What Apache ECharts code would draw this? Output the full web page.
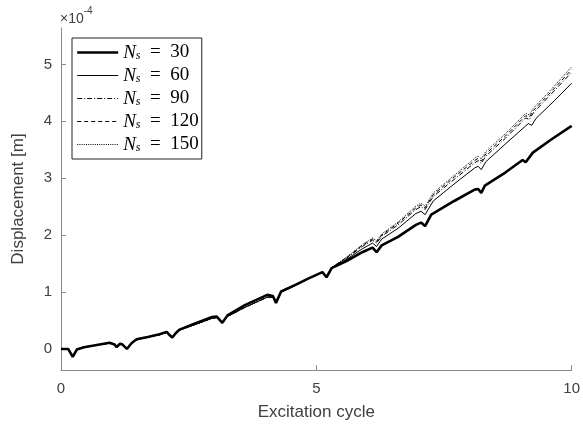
<!DOCTYPE html>
<html>
<head>
<meta charset="utf-8">
<script src="https://cdn.jsdelivr.net/npm/echarts@6/dist/echarts.min.js"></script>
<style>
  html, body { margin: 0; padding: 0; background: #fff; }
  #chart { width: 583px; height: 426px; }
</style>
</head>
<body>
<div id="chart"></div>
<script>
// Displacement (in units of 1e-4 m) versus excitation cycle, for several Ns.
const seriesNames = ['30', '60', '90', '120', '150'];
const xTicks = [0, 5, 10];
const yTicks = [0, 1, 2, 3, 4, 5];

// Ns = 30 (thick line)
const ns30 = [
  [0, 0], [0.14, 0], [0.23, -0.14], [0.31, -0.01], [0.45, 0.03], [0.7, 0.07], [0.95, 0.11],
  [1.05, 0.08], [1.09, 0.03], [1.15, 0.09], [1.2, 0.08], [1.29, 0.0], [1.38, 0.1], [1.48, 0.17],
  [1.7, 0.21], [1.93, 0.26], [2.07, 0.3], [2.13, 0.24], [2.18, 0.2], [2.25, 0.28], [2.32, 0.34],
  [2.6, 0.44], [2.96, 0.56], [3.05, 0.57], [3.16, 0.46], [3.26, 0.59], [3.6, 0.77], [4.04, 0.95],
  [4.15, 0.93], [4.21, 0.81], [4.31, 1.01], [4.6, 1.13], [4.85, 1.24], [5.12, 1.35], [5.2, 1.26],
  [5.3, 1.42], [5.6, 1.55], [5.9, 1.70], [6.1, 1.78], [6.18, 1.70], [6.28, 1.82], [6.6, 1.97],
  [6.95, 2.18], [7.05, 2.22], [7.13, 2.16], [7.25, 2.36], [7.7, 2.60], [8.1, 2.80], [8.17, 2.81],
  [8.23, 2.74], [8.3, 2.87], [8.7, 3.10], [9.04, 3.32], [9.1, 3.28], [9.24, 3.45], [9.6, 3.68],
  [10, 3.92]
];

// Shared early path of the finer discretisations (they nearly coincide up to cycle 5)
const thinEarly = [
  [0, 0], [0.14, 0], [0.23, -0.13], [0.31, 0.0], [0.45, 0.03], [0.7, 0.07], [0.95, 0.1],
  [1.05, 0.08], [1.09, 0.04], [1.15, 0.09], [1.2, 0.08], [1.29, 0.01], [1.38, 0.1], [1.48, 0.16],
  [1.7, 0.21], [1.93, 0.25], [2.07, 0.29], [2.13, 0.25], [2.18, 0.21], [2.25, 0.28], [2.32, 0.33],
  [2.6, 0.42], [2.96, 0.54], [3.05, 0.55], [3.16, 0.47], [3.26, 0.57], [3.6, 0.73], [4.04, 0.91],
  [4.15, 0.91], [4.21, 0.82], [4.31, 1.0], [4.6, 1.12], [4.85, 1.24], [5.12, 1.35], [5.2, 1.27],
  [5.3, 1.43]
];

const ns60Tail = [
  [5.6, 1.58], [5.9, 1.76], [6.1, 1.86], [6.18, 1.80], [6.28, 1.93], [6.6, 2.12], [6.95, 2.38],
  [7.05, 2.42], [7.13, 2.36], [7.29, 2.60], [7.7, 2.90], [8.1, 3.18], [8.17, 3.21], [8.23, 3.15],
  [8.32, 3.29], [8.7, 3.60], [9.15, 3.96], [9.22, 3.93], [9.3, 4.05], [9.67, 4.37], [10, 4.67]
];
const ns90Tail = [
  [5.6, 1.60], [5.9, 1.80], [6.1, 1.91], [6.18, 1.86], [6.28, 1.98], [6.6, 2.18], [6.95, 2.45],
  [7.05, 2.50], [7.13, 2.45], [7.29, 2.68], [7.7, 2.98], [8.1, 3.27], [8.17, 3.31], [8.23, 3.26],
  [8.32, 3.39], [8.7, 3.70], [9.1, 4.06], [9.17, 4.03], [9.25, 4.15], [9.6, 4.48], [10, 4.86]
];
const ns120Tail = [
  [5.6, 1.61], [5.9, 1.82], [6.1, 1.93], [6.18, 1.88], [6.28, 2.00], [6.6, 2.21], [6.95, 2.48],
  [7.05, 2.53], [7.13, 2.48], [7.29, 2.71], [7.7, 3.02], [8.1, 3.31], [8.17, 3.35], [8.23, 3.30],
  [8.32, 3.43], [8.7, 3.74], [9.1, 4.10], [9.17, 4.07], [9.25, 4.19], [9.6, 4.52], [10, 4.91]
];
const ns150Tail = [
  [5.6, 1.62], [5.9, 1.83], [6.1, 1.95], [6.18, 1.90], [6.28, 2.02], [6.6, 2.23], [6.95, 2.51],
  [7.05, 2.56], [7.13, 2.51], [7.29, 2.74], [7.7, 3.05], [8.1, 3.35], [8.17, 3.39], [8.23, 3.34],
  [8.32, 3.47], [8.7, 3.78], [9.1, 4.14], [9.17, 4.11], [9.25, 4.23], [9.6, 4.56], [10, 4.96]
];

const seriesData = [
  ns30,
  thinEarly.concat(ns60Tail),
  thinEarly.concat(ns90Tail),
  thinEarly.concat(ns120Tail),
  thinEarly.concat(ns150Tail)
];
const lineStyles = [
  { width: 2.6, type: 'solid' },
  { width: 1, type: 'solid' },
  { width: 1, type: [5, 2, 1, 2] },
  { width: 1, type: [4, 3] },
  { width: 1, type: [1, 1.2] }
];

const axisGray = '#8a8a8a';
const labelGray = '#404040';
const enSp = '\u2002';

const chart = echarts.init(document.getElementById('chart'), null, { renderer: 'canvas' });
chart.setOption({
  animation: false,
  backgroundColor: '#ffffff',
  grid: { left: 61, right: 9, top: 28, bottom: 53, containLabel: false },
  xAxis: {
    type: 'value', min: 0, max: 10, interval: 5,
    name: 'Excitation cycle', nameLocation: 'middle', nameGap: 34,
    nameTextStyle: { fontFamily: 'Liberation Sans', fontSize: 17, color: labelGray },
    axisLine: { show: true, onZero: false, lineStyle: { color: axisGray, width: 1 } },
    axisTick: { show: true, inside: true, length: 5, lineStyle: { color: axisGray } },
    axisLabel: { fontFamily: 'Liberation Sans', fontSize: 15, color: labelGray, margin: 11,
      customValues: xTicks },
    splitLine: { show: false }
  },
  yAxis: {
    type: 'value', min: -0.37, max: 5.64,
    name: 'Displacement [m]', nameLocation: 'middle', nameGap: 34,
    nameTextStyle: { fontFamily: 'Liberation Sans', fontSize: 17, color: labelGray },
    axisLine: { show: true, onZero: false, lineStyle: { color: axisGray, width: 1 } },
    axisTick: { show: true, inside: true, length: 5, lineStyle: { color: axisGray },
      customValues: yTicks },
    axisLabel: { fontFamily: 'Liberation Sans', fontSize: 15, color: labelGray, margin: 9,
      customValues: yTicks },
    splitLine: { show: false }
  },
  legend: {
    show: true,
    left: 72, top: 38, orient: 'vertical',
    itemWidth: 41, itemHeight: 10, itemGap: 4,
    padding: [5, 3, 5, 4],
    borderColor: '#222', borderWidth: 1, backgroundColor: '#fff',
    itemStyle: { opacity: 0 },
    data: seriesNames.map((n, i) => ({
      name: 'Ns' + n,
      lineStyle: { color: '#000', width: Math.min(lineStyles[i].width, 2.4), type: lineStyles[i].type }
    })),
    formatter: function (name) {
      return '{n|N}{s|s}{t|' + enSp + '=' + enSp + name.slice(2) + '}';
    },
    textStyle: {
      color: '#000',
      rich: {
        n: { fontFamily: 'Liberation Serif', fontStyle: 'italic', fontSize: 19, lineHeight: 19 },
        s: { fontFamily: 'Liberation Serif', fontStyle: 'italic', fontSize: 12, lineHeight: 19, padding: [7, 0, 0, 0] },
        t: { fontFamily: 'Liberation Serif', fontSize: 19, lineHeight: 19 }
      }
    }
  },
  graphic: [{
    type: 'text', left: 60, top: 6,
    style: {
      text: '{a|×10}{b|-4}',
      rich: {
        a: { fontFamily: 'Liberation Sans', fontSize: 14, fill: labelGray, lineHeight: 20, verticalAlign: 'bottom' },
        b: { fontFamily: 'Liberation Sans', fontSize: 10, fill: labelGray, lineHeight: 20, verticalAlign: 'top' }
      }
    }
  }],
  series: seriesData.map((d, i) => ({
    name: 'Ns' + seriesNames[i],
    type: 'line',
    data: d,
    symbol: 'none',
    smooth: false,
    clip: true,
    itemStyle: { color: '#000' },
    lineStyle: { color: '#000', width: lineStyles[i].width, type: lineStyles[i].type },
    z: 10 - i
  }))
});
</script>
</body>
</html>
